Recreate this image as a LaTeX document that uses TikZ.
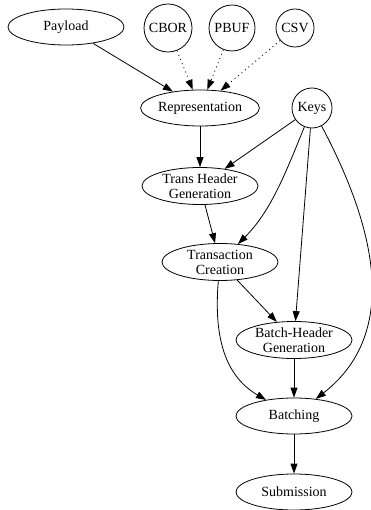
\documentclass[tikz,border=0pt]{standalone}
\usepackage{fontspec}
\setmainfont{Liberation Serif}
\usetikzlibrary{shapes.geometric,arrows.meta}
\begin{document}
\begin{tikzpicture}[x=1pt,y=1pt,
  every node/.style={font=\fontsize{14}{15}\selectfont, draw, line width=0.8pt, inner sep=0pt, align=center},
  oval/.style={ellipse, minimum width=116pt, minimum height=37pt},
  edge/.style={line width=0.8pt, -{Triangle[length=10pt,width=7pt]}},
  dotedge/.style={edge, dash pattern=on 1pt off 3.5pt}]
\useasboundingbox (0,0) rectangle (370,-510);
\node[oval, minimum height=36pt] (payload) at (66,-27) {Payload};
\node[circle, minimum size=48pt] (cbor) at (168,-28) {CBOR};
\node[circle, minimum size=46pt] (pbuf) at (232,-28) {PBUF};
\node[circle, minimum size=38pt] (csv) at (295,-28) {CSV};
\node[oval, minimum height=36pt] (rep) at (200,-108) {Representation};
\node[circle, minimum size=40pt] (keys) at (312,-108) {Keys};
\node[oval, inner ysep=-2pt] (th) at (200,-186) {Trans Header\\ Generation};
\node[oval, inner ysep=-2pt] (tc) at (220,-262) {Transaction\\ Creation};
\node[oval, inner ysep=-2pt] (bh) at (294,-340) {Batch-Header\\ Generation};
\node[oval, minimum height=36pt] (batching) at (294,-416) {Batching};
\node[oval, minimum height=36pt] (sub) at (294,-492) {Submission};
\draw[edge] (payload) -- (rep);
\draw[dotedge] (cbor) -- (rep);
\draw[dotedge] (pbuf) -- (rep);
\draw[dotedge] (csv) -- (rep);
\draw[edge] (rep) -- (th);
\draw[edge] (keys) -- (th);
\draw[edge] (keys) to[out=-112,in=45,out distance=55pt,in distance=45pt] (tc);
\draw[edge] (keys) -- (bh);
\draw[edge] (keys) to[out=-62,in=38,out distance=110pt,in distance=110pt] (batching);
\draw[edge] (th) -- (tc);
\draw[edge] (tc) -- (bh);
\draw[edge] (tc) to[out=-95,in=150,out distance=60pt,in distance=45pt] (batching);
\draw[edge] (bh) -- (batching);
\draw[edge] (batching) -- (sub);
\end{tikzpicture}
\end{document}
